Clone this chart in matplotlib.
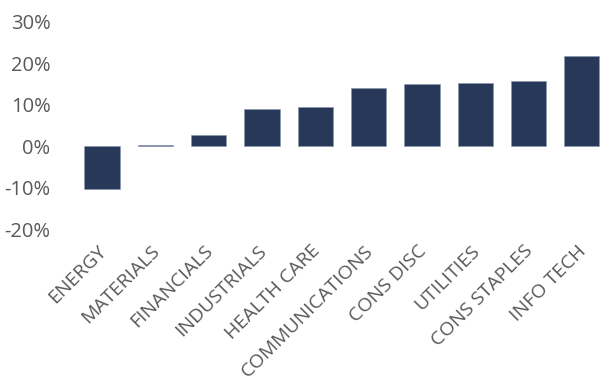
import matplotlib
matplotlib.use("Agg")
import matplotlib.pyplot as plt
import matplotlib.transforms as mtransforms
from matplotlib.ticker import FuncFormatter

sectors = ["ENERGY", "MATERIALS", "FINANCIALS", "INDUSTRIALS", "HEALTH CARE",
           "COMMUNICATIONS", "CONS DISC", "UTILITIES", "CONS STAPLES", "INFO TECH"]
returns = [-10.2, 0.4, 2.7, 8.9, 9.5, 14.1, 14.9, 15.3, 15.8, 21.8]
yticks = [-20, -10, 0, 10, 20, 30]

plt.rcParams['font.family'] = ['Open Sans', 'DejaVu Sans']
fig = plt.figure(figsize=(6, 3.86), dpi=100)
ax = fig.add_axes([70/600, 1-235/386, 1-70/600, 220/386])
x = list(range(len(sectors)))
ax.bar(x, returns, width=0.66, color='#283859', edgecolor='#8a96ad', linewidth=0.4)
ax.set_xlim(-0.6, 9.34)
ax.set_ylim(-21.4, 31.6)
ax.set_yticks(yticks)
ax.yaxis.set_major_formatter(FuncFormatter(lambda v, p: f"{v:.0f}%"))
ax.set_xticks(x)
ax.set_xticklabels(sectors, rotation=45, ha='right', rotation_mode='anchor')
ax.tick_params(axis='y', length=0, labelsize=14.5, colors='#595959', pad=14)
ax.tick_params(axis='x', length=0, labelsize=14, colors='#595959', pad=5)
offset = mtransforms.ScaledTranslation(-5/100, 0, fig.dpi_scale_trans)
for lbl in ax.get_xticklabels():
    lbl.set_transform(lbl.get_transform() + offset)
for s in ax.spines.values():
    s.set_visible(False)
fig.savefig("out.png", dpi=100)
